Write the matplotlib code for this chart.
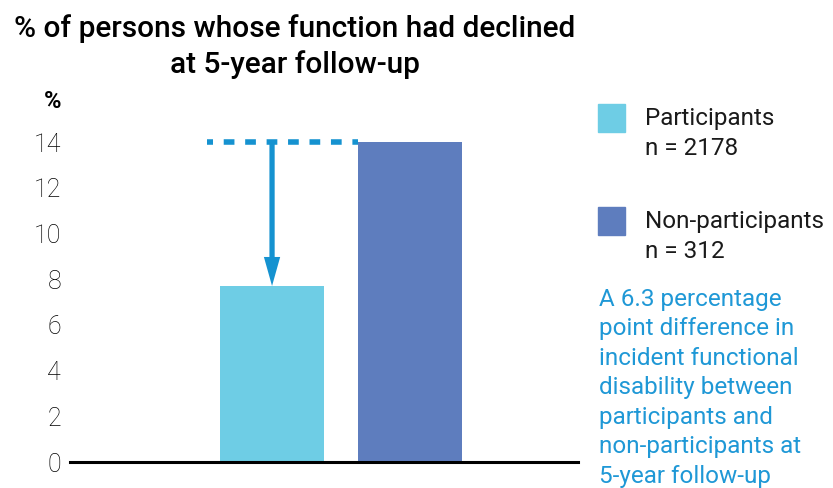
import numpy as np
import matplotlib.pyplot as plt

# ── DATA ──────────────────────────────────────────────────────────────────
groups = ["Participants", "Non-participants"]
group_n = ["n = 2178", "n = 312"]
values = [7.7, 14.0]
yticks = [0, 2, 4, 6, 8, 10, 12, 14]
note = ("A 6.3 percentage\npoint difference in\nincident functional\n"
        "disability between\nparticipants and\nnon-participants at\n5-year follow-up")

# ── STYLE ─────────────────────────────────────────────────────────────────
plt.rcParams['font.family'] = ['Roboto', 'DejaVu Sans']
colors = ['#6ecde5', '#5e7dbe']
blue = '#1592d0'
text_blue = '#1f98d6'
W, H = 833, 488

def fx(x):
    return x / W

def fy(y):
    return 1 - y / H

fig = plt.figure(figsize=(W / 100, H / 100), dpi=100)
ax = fig.add_axes([fx(70), fy(462), (578 - 70) / W, 320 / H])

x = np.arange(len(values))
bar_w = 0.754
ax.bar(x, values, width=bar_w, color=colors, zorder=2)
ax.set_xlim(-1.464, 2.217)
ax.set_ylim(0, 14)

# dashed reference line at the non-participant level + arrow down
ax.plot([x[0] - bar_w / 2 - 0.095, x[1] - bar_w / 2], [values[1], values[1]],
        color=blue, lw=4, linestyle=(0.85, (1.93, 1.93)), clip_on=False,
        solid_capstyle='butt', zorder=3)
ax.arrow(x[0], values[1], 0, values[0] - values[1], width=0.038,
         head_width=0.118, head_length=1.27, length_includes_head=True,
         color=blue, lw=0, zorder=4)

# axes styling
for s in ['top', 'right', 'left']:
    ax.spines[s].set_visible(False)
ax.spines['bottom'].set_linewidth(2.2)
ax.spines['bottom'].set_color('black')
ax.spines['bottom'].set_zorder(5)
ax.set_xticks([])
ax.set_yticks(yticks)
ax.tick_params(axis='y', length=0, pad=6.5, labelsize=18, labelcolor='#000000')
for lbl in ax.get_yticklabels():
    lbl.set_fontweight('light')

# titles
fig.text(fx(295), fy(37), "% of persons whose function had declined",
         ha='center', va='baseline', fontsize=21.5, fontweight='medium')
fig.text(fx(295), fy(73), "at 5-year follow-up",
         ha='center', va='baseline', fontsize=21.5, fontweight='medium')
fig.text(fx(61), fy(108), "%", ha='right', va='baseline', fontsize=17,
         fontweight='bold')

# legend
leg_tops = [104, 207]
for i, top in enumerate(leg_tops):
    fig.patches.append(plt.Rectangle((fx(598), fy(top + 28)), 27 / W, 28 / H,
                                     transform=fig.transFigure, color=colors[i]))
    fig.text(fx(645), fy(top + 21), groups[i], va='baseline', fontsize=17.5,
             color='#1a1a1a')
    fig.text(fx(645), fy(top + 51), group_n[i], va='baseline', fontsize=17.5,
             color='#1a1a1a')

# note
fig.text(fx(599), fy(288), note, va='top', ha='left', fontsize=17.5,
         color=text_blue, linespacing=1.36)

plt.savefig("out.png", dpi=100)
